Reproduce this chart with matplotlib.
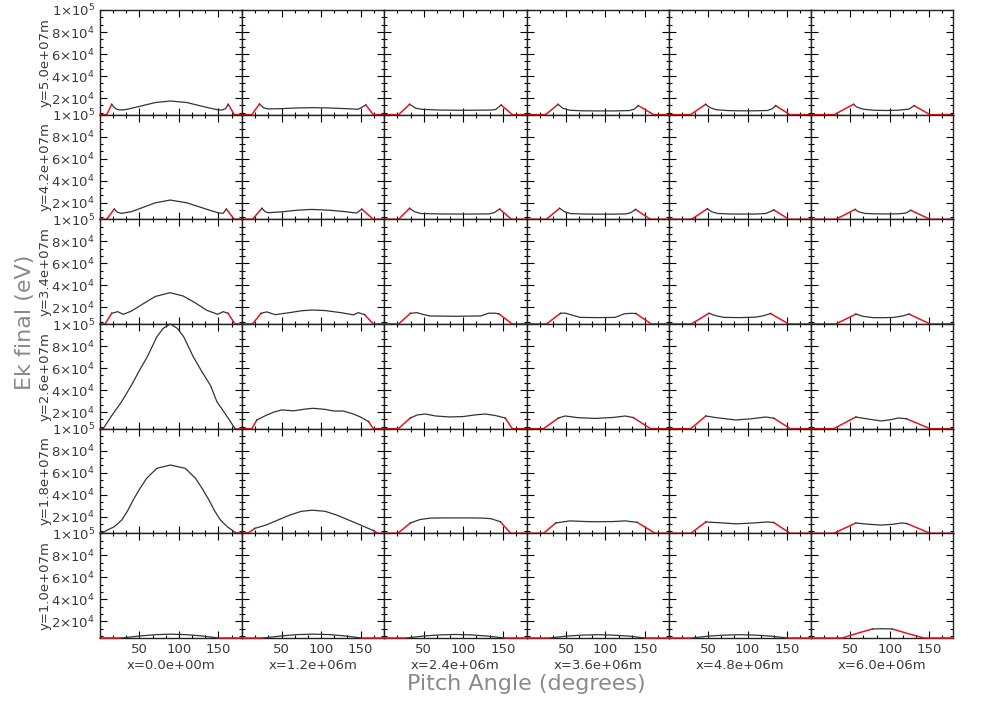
import numpy as np
import matplotlib
matplotlib.use('Agg')
import matplotlib.pyplot as plt
from matplotlib.ticker import AutoMinorLocator

# Column / row labels
x_labels = ['x=0.0e+00m', 'x=1.2e+06m', 'x=2.4e+06m', 'x=3.6e+06m', 'x=4.8e+06m', 'x=6.0e+06m']
y_labels = ['y=5.0e+07m', 'y=4.2e+07m', 'y=3.4e+07m', 'y=2.6e+07m', 'y=1.8e+07m', 'y=1.0e+07m']

y_ticks = [2e4, 4e4, 6e4, 8e4, 1e5]
y_tick_labels = [r'$2{\times}10^4$', r'$4{\times}10^4$', r'$6{\times}10^4$', r'$8{\times}10^4$', r'$1{\times}10^5$']
x_ticks = [50, 100, 150]
ek_min, ek_max = 5000, 1e5

# pitch angle (deg) / final energy (eV), row by row (top -> bottom)
pa_y50 = [[0, 8.5, 14.8, 18, 21, 25, 30, 35, 50, 70, 89, 110, 130, 145, 150, 155, 159, 162.4, 170, 180],
          [0, 12.3, 21.9, 27, 33, 50, 70, 90, 110, 130, 147, 156.6, 166, 180],
          [0, 18, 32, 40, 48, 70, 90, 110, 135, 141, 148, 162, 180],
          [0, 24, 40, 46, 55, 70, 90, 110, 130, 136.5, 141.5, 161, 180],
          [0, 27.8, 46.8, 52, 60, 75, 90, 110, 125, 131, 135.4, 153.6, 180],
          [0, 29.5, 54, 58, 66, 80, 95, 110, 124, 130.8, 151, 180]]
ek_y50 = [[5000, 5000, 14400, 11500, 10000, 9300, 9400, 10000, 12500, 16000, 17400, 16000, 12500, 10000, 9400, 9300, 10500, 14400, 5000, 5000],
          [5000, 5000, 14700, 11200, 10200, 10500, 11100, 11350, 11100, 10500, 9900, 13800, 5000, 5000],
          [5000, 5000, 14400, 10800, 9800, 9200, 9000, 9000, 9200, 9700, 13800, 5000, 5000],
          [5000, 5000, 14400, 10800, 9000, 8500, 8400, 8400, 8700, 10000, 13200, 5000, 5000],
          [5000, 5000, 14400, 11500, 9500, 8700, 8500, 8500, 8800, 10300, 13200, 5000, 5000],
          [5000, 5000, 14400, 12000, 10000, 9000, 8800, 9000, 10000, 13200, 5000, 5000]]
black_y50 = [(14.8, 162.4), (21.9, 156.6), (32, 148), (40, 141.5), (46.8, 135.4), (54, 130.8)]

pa_y42 = [[0, 8.5, 18, 22, 27, 40, 55, 70, 89, 110, 125, 140, 150, 156, 160, 170, 180],
          [0, 13, 25, 29, 33, 50, 70, 88, 110, 130, 145, 151.5, 166, 180],
          [0, 18, 32, 38, 46, 70, 90, 110, 132, 139, 146, 161, 180],
          [0, 25, 42, 48, 56, 75, 90, 110, 126, 132, 138, 157, 180],
          [0, 28.7, 49, 54, 62, 80, 95, 110, 123, 133.3, 152.3, 180],
          [0, 31.6, 56, 60, 68, 80, 95, 110, 120, 126.6, 151, 180]]
ek_y42 = [[5000, 5000, 14300, 11500, 10400, 12000, 16000, 20000, 22500, 20000, 16500, 13000, 10800, 10500, 14300, 5000, 5000],
          [5000, 5000, 15000, 12000, 11000, 11800, 13300, 14000, 13300, 12000, 10700, 14300, 5000, 5000],
          [5000, 5000, 15000, 12000, 10300, 9900, 9800, 9800, 9900, 11000, 14300, 5000, 5000],
          [5000, 5000, 15000, 12000, 10200, 9800, 9700, 9700, 9900, 11000, 14000, 5000, 5000],
          [5000, 5000, 14600, 12000, 10300, 9800, 9800, 9800, 10300, 13500, 5000, 5000],
          [5000, 5000, 14000, 12000, 10400, 10000, 9900, 10000, 10600, 13200, 5000, 5000]]
black_y42 = [(18, 160), (25, 151.5), (32, 146), (42, 138), (49, 133.3), (56, 126.6)]

pa_y34 = [[0, 6.3, 14.8, 22.4, 29.5, 40, 55, 70, 88.6, 105, 120, 135, 149, 156, 162, 171, 180],
          [0, 13, 24, 31, 41.8, 60, 75, 88, 105, 125, 141, 147, 155, 166, 180],
          [0, 18, 33, 41.4, 50, 58, 90, 122, 132, 140, 145, 162, 180],
          [0, 25.3, 43, 49, 58, 68, 90, 112, 124, 132, 138.5, 158, 180],
          [0, 28.7, 51, 60, 70, 90, 110, 120, 129, 152, 180],
          [0, 31.6, 57, 66, 78, 90, 105, 116, 124.4, 151, 180]]
ek_y34 = [[5000, 5000, 14700, 16200, 13800, 16800, 23500, 30000, 33400, 30500, 24500, 17500, 13800, 16200, 14700, 5000, 5000],
          [5000, 5000, 14700, 16000, 13500, 15300, 17000, 17700, 17200, 15300, 13300, 15300, 13500, 5000, 5000],
          [5000, 5000, 14700, 15300, 13500, 12300, 12000, 12300, 14800, 14800, 14200, 5000, 5000],
          [5000, 5000, 14700, 14900, 13000, 11000, 10800, 11000, 14300, 14700, 14500, 5000, 5000],
          [5000, 5000, 14700, 12500, 11000, 10800, 11200, 12500, 14500, 5000, 5000],
          [5000, 5000, 14000, 12000, 10800, 10700, 11000, 12300, 14000, 5000, 5000]]
black_y34 = [(14.8, 162), (24, 155), (33, 145), (43, 138.5), (51, 129), (57, 124.4)]

pa_y26 = [[0, 4, 15, 27.4, 40, 50, 60, 72, 80, 89, 98, 106, 118, 128, 140, 148, 160, 171, 180],
          [0, 12.3, 18.6, 30, 40, 50, 65, 80, 90, 105, 116, 128, 140, 150, 160, 166, 180],
          [0, 17.7, 32.9, 42, 52, 65, 83.5, 100, 115, 127.8, 140, 153, 162, 180],
          [0, 21.5, 40.5, 49, 65, 87, 110, 125, 135.4, 157, 180],
          [0, 28, 47, 60, 85, 105, 123, 133, 154, 180],
          [0, 29, 57, 70, 89, 100, 111, 121, 151, 180]]
ek_y26 = [[5000, 5000, 17000, 29500, 44600, 58000, 70400, 88400, 96000, 100000, 96000, 88400, 70400, 58000, 44000, 29500, 17000, 5000, 5000],
          [5000, 5000, 12900, 17000, 20000, 22000, 21200, 22800, 23500, 22500, 21000, 21000, 18500, 15500, 11400, 5000, 5000],
          [5000, 5000, 14700, 17500, 18300, 16500, 15600, 16000, 17500, 18300, 17000, 14700, 5000, 5000],
          [5000, 5000, 14700, 16500, 15000, 14300, 15200, 16500, 15000, 5000, 5000],
          [5000, 5000, 16500, 15000, 12900, 14000, 15600, 14500, 5000, 5000],
          [5000, 5000, 15600, 14000, 12000, 13000, 14700, 14000, 5000, 5000]]
black_y26 = [(4, 171), (18.6, 160), (32.9, 153), (40.5, 135.4), (47, 133), (57, 121)]

pa_y18 = [[0, 2, 8, 18, 27.5, 35, 42, 50, 59, 72, 89, 108, 121, 130, 138, 145, 152.5, 162, 173, 180],
          [0, 8, 16, 30, 45, 60, 75, 89, 105, 120, 135, 150, 166, 172, 180],
          [0, 17, 33, 45, 58, 75, 90, 110, 125, 135, 147, 160, 180],
          [0, 21.5, 37, 55, 75, 90, 110, 125, 140, 163, 180],
          [0, 28, 47, 65, 85, 105, 125, 133, 154, 180],
          [0, 29, 57, 72, 89, 104, 115, 122, 151, 180]]
ek_y18 = [[5000, 5000, 7500, 11000, 17000, 25500, 35200, 45000, 54900, 64000, 67000, 64000, 54900, 45000, 35200, 25500, 17000, 10500, 5000, 5000],
          [5000, 5500, 9500, 12500, 17000, 21500, 25000, 26000, 25000, 21500, 17000, 12500, 7500, 5000, 5000],
          [5000, 5000, 14400, 17500, 18800, 19000, 19000, 19000, 18800, 18300, 15500, 5000, 5000],
          [5000, 5000, 14400, 16300, 15700, 15500, 15700, 16300, 15000, 5000, 5000],
          [5000, 5000, 15300, 14600, 13600, 14300, 15300, 14800, 5000, 5000],
          [5000, 5000, 14400, 13300, 12500, 13200, 14400, 13800, 5000, 5000]]
black_y18 = [(2, 173), (16, 166), (33, 147), (37, 140), (47, 133), (57, 122)]

pa_y10 = [[0, 27, 50, 70, 89, 110, 130, 150, 180],
          [0, 27, 50, 70, 90, 110, 130, 151, 180],
          [0, 28, 50, 70, 90, 110, 130, 152, 180],
          [0, 30, 50, 70, 90, 110, 130, 150, 180],
          [0, 30, 50, 70, 90, 110, 130, 150, 180],
          [0, 39.5, 60, 78, 90, 103, 123, 143, 180]]
ek_y10 = [[5000, 5000, 6800, 8000, 8500, 8000, 6800, 5000, 5000],
          [5000, 5000, 6900, 8100, 8500, 8100, 6900, 5000, 5000],
          [5000, 5000, 6800, 7800, 8200, 7800, 6800, 5000, 5000],
          [5000, 5000, 6700, 7600, 8000, 7600, 6700, 5000, 5000],
          [5000, 5000, 6700, 7600, 8000, 7600, 6700, 5000, 5000],
          [5000, 5000, 9500, 13200, 13400, 13200, 9000, 5000, 5000]]
black_y10 = [(27, 150), (27, 151), (28, 152), (30, 150), (30, 150), (78, 103)]

rows = [(pa_y50, ek_y50, black_y50), (pa_y42, ek_y42, black_y42), (pa_y34, ek_y34, black_y34),
        (pa_y26, ek_y26, black_y26), (pa_y18, ek_y18, black_y18), (pa_y10, ek_y10, black_y10)]

W, H = 981, 701
fig = plt.figure(figsize=(W / 100, H / 100), dpi=100)

left, right, top, bottom = 100, 953, 10, 638
pw = (right - left) / 6
ph = (bottom - top) / 6
red = '#e8141c'
txt = '#3a3a3a'

for r, (pas, eks, blacks) in enumerate(rows):
    for c in range(6):
        ax = fig.add_axes([(left + c * pw) / W, 1 - (top + (r + 1) * ph) / H, pw / W, ph / H])
        pa = np.array(pas[c], dtype=float)
        ek = np.array(eks[c], dtype=float)
        b0, b1 = blacks[c]
        lo = pa <= b0
        hi = pa >= b1
        mid = (pa >= b0) & (pa <= b1)
        ax.plot(pa[lo], ek[lo], color=red, lw=1.1, zorder=3, clip_on=False)
        ax.plot(pa[hi], ek[hi], color=red, lw=1.1, zorder=3, clip_on=False)
        ax.plot(pa[mid], ek[mid], color='#333333', lw=0.9, zorder=4, clip_on=False)

        ax.set_xlim(0, 180)
        ax.set_ylim(ek_min, ek_max)
        ax.set_xticks(x_ticks)
        ax.set_yticks(y_ticks)
        ax.xaxis.set_minor_locator(AutoMinorLocator(3))
        ax.yaxis.set_minor_locator(AutoMinorLocator(3))
        ax.tick_params(which='both', direction='in', top=True, right=True,
                       width=0.8, colors='black', labelcolor=txt, labelsize=9.5)
        ax.tick_params(which='major', length=5)
        ax.tick_params(which='minor', length=2.5)
        for s in ax.spines.values():
            s.set_linewidth(1.0)
            s.set_color('#222222')

        if c == 0:
            ax.set_yticklabels(y_tick_labels)
            ax.set_ylabel(y_labels[r], fontsize=9.5, color=txt, labelpad=0)
        else:
            ax.set_yticklabels([])
        if r == 5:
            ax.set_xticklabels([str(t) for t in x_ticks])
            ax.set_xlabel(x_labels[c], fontsize=9.5, color=txt, labelpad=2)
        else:
            ax.set_xticklabels([])

fig.text(25 / W, 1 - 322 / H, 'Ek final (eV)', rotation=90, ha='center', va='center',
         fontsize=16, color='#8a8a8a')
fig.text(526 / W, 1 - 684 / H, 'Pitch Angle (degrees)', ha='center', va='center',
         fontsize=16, color='#8a8a8a')

fig.savefig('out.png', dpi=100)
